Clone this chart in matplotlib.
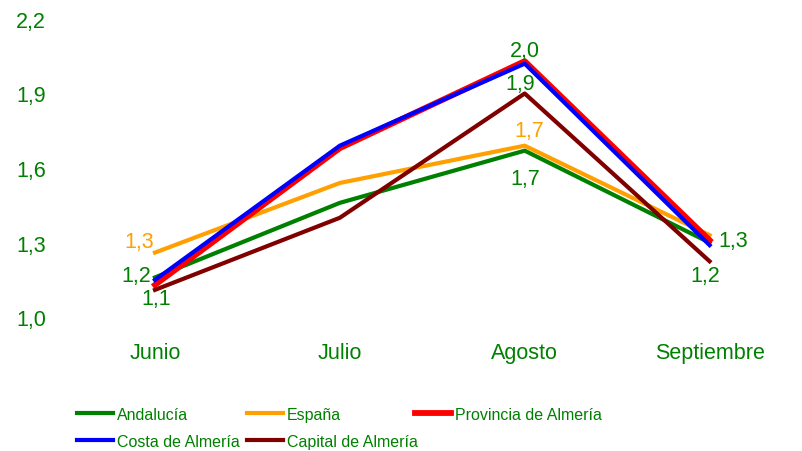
import matplotlib.pyplot as plt

plt.rcParams['font.family'] = ['Liberation Sans', 'DejaVu Sans']

meses = ['Junio', 'Julio', 'Agosto', 'Septiembre']
andalucia = [1.16, 1.46, 1.67, 1.30]
espana = [1.26, 1.54, 1.69, 1.33]
provincia = [1.13, 1.68, 2.03, 1.31]
costa = [1.15, 1.69, 2.02, 1.29]
capital = [1.11, 1.40, 1.90, 1.225]
y_ticks = [1.0, 1.3, 1.6, 1.9, 2.2]

verde = '#008000'
naranja = '#FFA000'
x = range(len(meses))

fig = plt.figure(figsize=(8.02, 4.52), dpi=100)
ax = fig.add_axes([0.078, 0.296, 0.922, 0.66])

l_and, = ax.plot(x, andalucia, color=verde, lw=3.0, label='Andalucía')
l_esp, = ax.plot(x, espana, color=naranja, lw=3.0, label='España')
l_pro, = ax.plot(x, provincia, color='#FF0000', lw=4.2, label='Provincia de Almería')
l_cos, = ax.plot(x, costa, color='#0000FF', lw=3.0, label='Costa de Almería')
l_cap, = ax.plot(x, capital, color='#800000', lw=3.0, label='Capital de Almería')

# etiquetas de datos (offset en pixeles)
def etiqueta(serie, i, dx, dy, color=verde):
    ax.annotate(f'{serie[i]:.1f}'.replace('.', ','), (i, serie[i]), xytext=(dx, dy),
                textcoords='offset pixels', ha='center', va='center',
                fontsize=15.5, color=color)

etiqueta(espana, 0, -16, 11, naranja)
etiqueta(andalucia, 0, -19, 2)
etiqueta(capital, 0, 1, -9)
etiqueta(provincia, 2, 0, 11)
etiqueta(capital, 2, -5, 10)
etiqueta(espana, 2, 5, 15, naranja)
etiqueta(andalucia, 2, 1, -28)
etiqueta(andalucia, 3, 24, 2)
etiqueta(capital, 3, -4, -14)

ax.set_xlim(-0.5, 3.5)
ax.set_ylim(1.0, 2.2)
ax.set_yticks(y_ticks)
ax.set_yticklabels([f'{v:.1f}'.replace('.', ',') for v in y_ticks])
ax.set_xticks(list(x))
ax.set_xticklabels(meses)
ax.tick_params(length=0, colors=verde, labelsize=15.5)
ax.tick_params(axis='x', pad=18)
ax.tick_params(axis='y', pad=12)
for s in ax.spines.values():
    s.set_visible(False)

# leyenda en tres columnas colocadas a mano
columnas = [(0.096, [l_and, l_cos]), (0.308, [l_esp, l_cap]), (0.517, [l_pro])]
for x0, lineas in columnas:
    leg = fig.legend(lineas, [l.get_label() for l in lineas],
                     loc='upper left', bbox_to_anchor=(x0, 0.098),
                     frameon=False, handlelength=2.25, handletextpad=0.25,
                     labelspacing=0.75, borderaxespad=0, borderpad=0, fontsize=11.5)
    for t in leg.get_texts():
        t.set_color(verde)

fig.savefig('out.png', dpi=100)
